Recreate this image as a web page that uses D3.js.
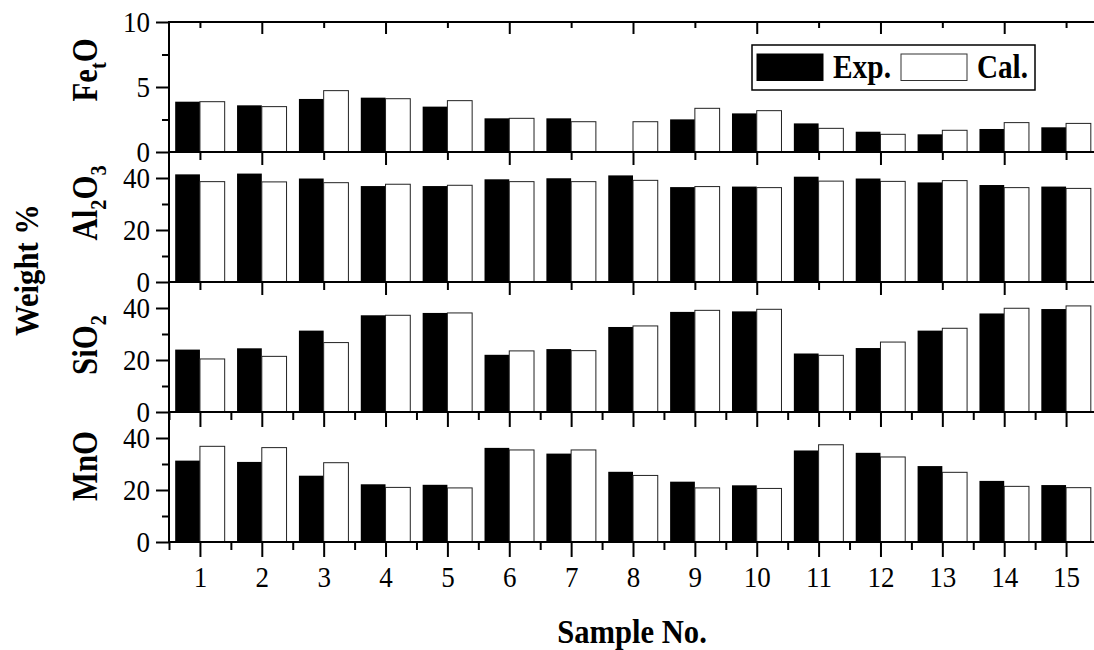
<!DOCTYPE html>
<html>
<head>
<meta charset="utf-8">
<script src="https://cdn.jsdelivr.net/npm/d3@7"></script>
<style>
  html, body { margin: 0; padding: 0; background: #fff; }
  svg { display: block; }
  svg text { font-family: "Liberation Serif", "Times New Roman", serif; fill: #000; }
  .axis path, .axis line { stroke: #000; stroke-width: 2; }
  .axis text { font-size: 30px; }
</style>
</head>
<body>
<svg id="chart" width="1094" height="650"></svg>
<script>
// Exp. vs Cal. oxide weight % for 15 samples

const SAMPLES = [1, 2, 3, 4, 5, 6, 7, 8, 9, 10, 11, 12, 13, 14, 15];
const SERIES = ["Exp.", "Cal."];

const FEO_EXP = [3.87, 3.59, 4.08, 4.18, 3.49, 2.59, 2.59, 0, 2.51, 2.97, 2.20, 1.56, 1.36, 1.77, 1.90];
const FEO_CAL = [3.87, 3.49, 4.72, 4.10, 3.95, 2.59, 2.33, 2.33, 3.36, 3.18, 1.82, 1.36, 1.67, 2.26, 2.20];
const AL2O3_EXP = [41.4, 41.7, 39.8, 36.9, 36.9, 39.5, 39.9, 41.0, 36.5, 36.7, 40.5, 39.8, 38.3, 37.3, 36.7];
const AL2O3_CAL = [38.6, 38.5, 38.2, 37.6, 37.2, 38.6, 38.6, 39.1, 36.7, 36.3, 38.8, 38.7, 39.0, 36.3, 36.0];
const SIO2_EXP = [24.0, 24.5, 31.3, 37.2, 38.1, 22.0, 24.2, 32.7, 38.5, 38.7, 22.5, 24.6, 31.3, 37.9, 39.6];
const SIO2_CAL = [20.4, 21.4, 26.7, 37.2, 38.1, 23.5, 23.6, 33.1, 39.1, 39.5, 21.8, 26.9, 32.2, 39.9, 40.8];
const MNO_EXP = [31.3, 30.8, 25.5, 22.2, 22.0, 36.2, 34.0, 27.0, 23.2, 21.8, 35.2, 34.3, 29.2, 23.5, 21.9];
const MNO_CAL = [36.8, 36.3, 30.5, 21.0, 20.8, 35.4, 35.4, 25.6, 20.8, 20.6, 37.4, 32.7, 26.8, 21.4, 20.9];

// label pieces: [text, isSubscript]
const PANELS = [
  { name: [["Fe", 0], ["t", 1], ["O", 0]],          exp: FEO_EXP,   cal: FEO_CAL,   max: 10, major: [0, 5, 10],  minor: [2.5, 7.5] },
  { name: [["Al", 0], ["2", 1], ["O", 0], ["3", 1]], exp: AL2O3_EXP, cal: AL2O3_CAL, max: 50, major: [0, 20, 40], minor: [10, 30] },
  { name: [["SiO", 0], ["2", 1]],                    exp: SIO2_EXP,  cal: SIO2_CAL,  max: 50, major: [0, 20, 40], minor: [10, 30] },
  { name: [["MnO", 0]],                              exp: MNO_EXP,   cal: MNO_CAL,   max: 50, major: [0, 20, 40], minor: [10, 30] }
];

// layout
const L = 169, R = 1097, TOP = 22, PH = 130;
const LABEL_Y = [70, 203, 345, 466];
const COND = 0.9; // glyphs in the original are horizontally condensed

const svg = d3.select("#chart");
const x = d3.scaleLinear().domain([0.5, 15.5]).range([L, R]);
const BW = 0.4;

function condense(sel, f = COND) {
  sel.each(function () {
    const len = this.getComputedTextLength();
    d3.select(this).attr("textLength", len * f).attr("lengthAdjust", "spacingAndGlyphs");
  });
}
function fixAxis(a) {
  a.attr("font-family", null).attr("font-size", null);
  a.select(".domain").remove();
  a.selectAll("text").filter(function () { return this.textContent === ""; }).remove();
  return a;
}

PANELS.forEach((p, i) => {
  const y0 = TOP + i * PH;
  const y = d3.scaleLinear().domain([0, p.max]).range([y0 + PH, y0]);
  const g = svg.append("g");

  // bars
  g.selectAll("rect.exp").data(p.exp).join("rect")
    .attr("x", (d, j) => x(SAMPLES[j] - BW))
    .attr("width", x(BW) - x(0))
    .attr("y", d => y(d))
    .attr("height", d => y(0) - y(d))
    .attr("fill", "#000");
  g.selectAll("rect.cal").data(p.cal).join("rect")
    .attr("x", (d, j) => x(SAMPLES[j]))
    .attr("width", x(BW) - x(0))
    .attr("y", d => y(d))
    .attr("height", d => y(0) - y(d))
    .attr("fill", "#fff").attr("stroke", "#222").attr("stroke-width", 1);

  // y axis: major + minor
  const ya = fixAxis(g.append("g").attr("class", "axis").attr("transform", `translate(${L},0)`)
    .call(d3.axisLeft(y).tickValues(p.major).tickSize(13).tickPadding(6)));
  condense(ya.selectAll("text"));
  fixAxis(g.append("g").attr("class", "axis").attr("transform", `translate(${L},0)`)
    .call(d3.axisLeft(y).tickValues(p.minor).tickSize(7).tickFormat("")));

  // bottom axis ticks
  let majorX, minorX;
  if (i < 2) {
    majorX = SAMPLES.filter(v => v % 2 === 0);
    minorX = SAMPLES.filter(v => v % 2 === 1);
  } else {
    majorX = SAMPLES;
    minorX = d3.range(0.5, 16, 1);
  }
  const xb = fixAxis(g.append("g").attr("class", "axis").attr("transform", `translate(0,${y0 + PH})`)
    .call(d3.axisBottom(x).tickValues(majorX).tickSize(i < 2 ? 13 : 15)
      .tickFormat(i === 3 ? d3.format("d") : "").tickPadding(9)));
  fixAxis(g.append("g").attr("class", "axis").attr("transform", `translate(0,${y0 + PH})`)
    .call(d3.axisBottom(x).tickValues(minorX).tickSize(8).tickFormat("")));
  if (i === 3) condense(xb.selectAll("text"));

  // top axis ticks for the first panel (pointing inward)
  if (i === 0) {
    fixAxis(g.append("g").attr("class", "axis").attr("transform", `translate(0,${y0})`)
      .call(d3.axisBottom(x).tickValues(majorX).tickSize(12).tickFormat("")));
    fixAxis(g.append("g").attr("class", "axis").attr("transform", `translate(0,${y0})`)
      .call(d3.axisBottom(x).tickValues(minorX).tickSize(6).tickFormat("")));
  }

  // horizontal frame line at panel bottom
  g.append("line").attr("x1", L).attr("x2", R).attr("y1", y0 + PH).attr("y2", y0 + PH)
    .attr("stroke", "#000").attr("stroke-width", 2);

  // panel label (rotated)
  const t = svg.append("text")
    .attr("transform", `translate(97,${LABEL_Y[i]}) rotate(-90)`)
    .attr("text-anchor", "middle")
    .attr("font-size", 35).attr("font-weight", "bold");
  let shifted = false;
  p.name.forEach(([s, sub]) => {
    const dy = sub ? (shifted ? 0 : 9) : (shifted ? -9 : 0);
    shifted = !!sub;
    t.append("tspan").text(s)
      .attr("font-size", sub ? 23 : 35)
      .attr("dy", dy);
  });
  const bb = t.node().getComputedTextLength();
  t.attr("textLength", bb * 0.88).attr("lengthAdjust", "spacingAndGlyphs");
});

// frame: top line and left axis
svg.append("line").attr("x1", L).attr("x2", R).attr("y1", TOP).attr("y2", TOP)
  .attr("stroke", "#000").attr("stroke-width", 2);
svg.append("line").attr("x1", L).attr("x2", L).attr("y1", TOP - 1).attr("y2", TOP + 4 * PH + 1)
  .attr("stroke", "#000").attr("stroke-width", 2);

// axis titles
const wt = svg.append("text")
  .attr("transform", "translate(38,270) rotate(-90)")
  .attr("text-anchor", "middle").attr("font-size", 34).attr("font-weight", "bold")
  .text("Weight %");
condense(wt, 0.9);
const st = svg.append("text")
  .attr("x", 632).attr("y", 643)
  .attr("text-anchor", "middle").attr("font-size", 34).attr("font-weight", "bold")
  .text("Sample No.");
condense(st, 0.9);

// legend
const lg = svg.append("g");
lg.append("rect").attr("x", 752).attr("y", 45).attr("width", 283).attr("height", 45)
  .attr("fill", "#fff").attr("stroke", "#000").attr("stroke-width", 1.5);
const swatchX = [757, 901], textX = [833, 977], textW = [58, 51];
SERIES.forEach((s, k) => {
  lg.append("rect").attr("x", swatchX[k]).attr("y", 54).attr("width", 66).attr("height", 26.5)
    .attr("fill", k === 0 ? "#000" : "#fff").attr("stroke", k === 0 ? "#000" : "#333").attr("stroke-width", 1);
  lg.append("text").attr("x", textX[k]).attr("y", 78)
    .attr("font-size", 34).attr("font-weight", "bold")
    .attr("textLength", textW[k]).attr("lengthAdjust", "spacingAndGlyphs")
    .text(s);
});
</script>
</body>
</html>
